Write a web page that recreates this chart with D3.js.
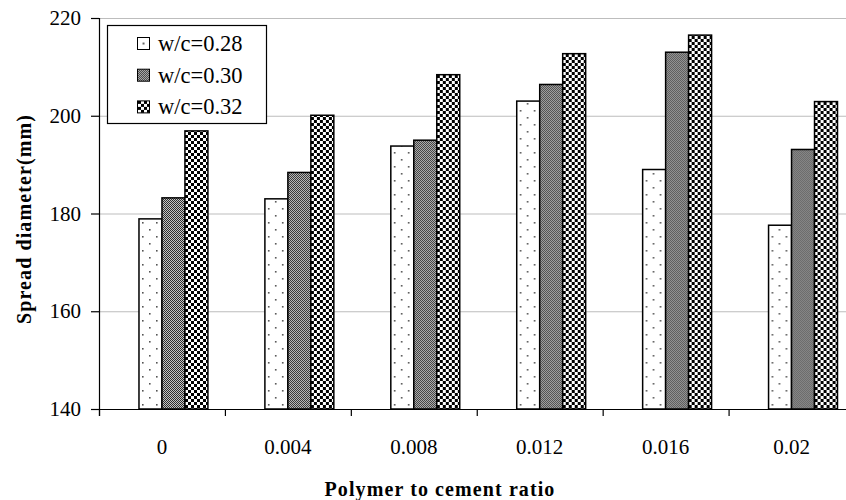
<!DOCTYPE html>
<html>
<head>
<meta charset="utf-8">
<script src="https://cdn.jsdelivr.net/npm/d3@7/dist/d3.min.js"></script>
<style>
  html, body { margin: 0; padding: 0; background: #fff; }
  svg { display: block; }
  text { font-family: "Liberation Serif", "Times New Roman", serif; fill: #000; }
</style>
</head>
<body>
<svg id="chart" width="846" height="500"></svg>
<script>
// ---- data ----
const categories = ["0", "0.004", "0.008", "0.012", "0.016", "0.02"];
const seriesNames = ["w/c=0.28", "w/c=0.30", "w/c=0.32"];
const wc028 = [178.9, 183.0, 193.8, 203.0, 189.0, 177.6];
const wc030 = [183.2, 188.4, 195.0, 206.4, 213.0, 193.1];
const wc032 = [196.9, 200.1, 208.4, 212.7, 216.5, 202.9];
const yTicks = [140, 160, 180, 200, 220];
const xTitle = "Polymer to cement ratio";
const yTitle = "Spread diameter(mm)";

const seriesValues = [wc028, wc030, wc032];
const patternIds = ["pDots", "pFine", "pCheck"];
const legendPatternIds = ["pDotLegend", "pFine", "pCheck"];

// ---- layout ----
const svg = d3.select("#chart");
const mLeft = 99, mRight = 854.5, mTop = 18, mBottom = 409;

const x0 = d3.scaleBand().domain(categories).range([mLeft, mRight])
  .paddingInner(0.27).paddingOuter(0.135);
// four slots per group (first slot empty, as in the original spreadsheet chart)
const x1 = d3.scaleBand().domain(["", ...seriesNames]).range([0, x0.bandwidth()]);
const y = d3.scaleLinear().domain([140, 220]).range([mBottom, mTop]);

// ---- patterns ----
const defs = svg.append("defs");
const pd = defs.append("pattern").attr("id", "pDots").attr("patternUnits", "userSpaceOnUse")
  .attr("width", 14).attr("height", 14).attr("x", 2).attr("y", 2);
pd.append("rect").attr("width", 14).attr("height", 14).attr("fill", "#fff");
pd.append("rect").attr("x", 3).attr("y", 3).attr("width", 1.6).attr("height", 1.6).attr("fill", "#555");
pd.append("rect").attr("x", 10).attr("y", 10).attr("width", 1.6).attr("height", 1.6).attr("fill", "#555");

const pdl = defs.append("pattern").attr("id", "pDotLegend").attr("patternUnits", "objectBoundingBox")
  .attr("patternContentUnits", "objectBoundingBox").attr("width", 1).attr("height", 1);
pdl.append("rect").attr("width", 1).attr("height", 1).attr("fill", "#fff");
pdl.append("rect").attr("x", 0.43).attr("y", 0.43).attr("width", 0.15).attr("height", 0.15).attr("fill", "#444");

const pf = defs.append("pattern").attr("id", "pFine").attr("patternUnits", "userSpaceOnUse")
  .attr("width", 2).attr("height", 2);
pf.append("rect").attr("width", 2).attr("height", 2).attr("fill", "#c4c4c4");
pf.append("rect").attr("x", 0).attr("y", 0).attr("width", 1).attr("height", 1).attr("fill", "#2e2e2e");
pf.append("rect").attr("x", 1).attr("y", 1).attr("width", 1).attr("height", 1).attr("fill", "#2e2e2e");

const pc = defs.append("pattern").attr("id", "pCheck").attr("patternUnits", "userSpaceOnUse")
  .attr("width", 6).attr("height", 6);
pc.append("rect").attr("width", 6).attr("height", 6).attr("fill", "#fff");
pc.append("rect").attr("x", 0).attr("y", 0).attr("width", 3).attr("height", 3).attr("fill", "#000");
pc.append("rect").attr("x", 3).attr("y", 3).attr("width", 3).attr("height", 3).attr("fill", "#000");

// ---- gridlines ----
svg.append("g").selectAll("line").data(yTicks.filter(t => t > 140)).join("line")
  .attr("x1", mLeft).attr("x2", 846)
  .attr("y1", d => y(d) + 0.5).attr("y2", d => y(d) + 0.5)
  .attr("stroke", "#bdbdbd").attr("stroke-width", 1.2);

// ---- bars ----
const groups = svg.append("g").selectAll("g").data(categories).join("g")
  .attr("transform", d => `translate(${x0(d)},0)`);
groups.selectAll("rect")
  .data((c, ci) => seriesNames.map((s, si) => ({ s, si, v: seriesValues[si][ci] })))
  .join("rect")
  .attr("x", d => x1(d.s))
  .attr("width", x1.bandwidth())
  .attr("y", d => y(d.v))
  .attr("height", d => mBottom - y(d.v))
  .attr("fill", d => `url(#${patternIds[d.si]})`)
  .attr("stroke", "#000").attr("stroke-width", 1.5);

// ---- axes ----
const yAxis = svg.append("g").attr("transform", `translate(${mLeft},0)`)
  .call(d3.axisLeft(y).tickValues(yTicks).tickSize(8).tickPadding(10).tickFormat(d3.format("d")));
yAxis.select(".domain").attr("stroke", "#000").attr("stroke-width", 1.2);
yAxis.selectAll(".tick line").attr("stroke", "#000").attr("stroke-width", 1.2);
yAxis.selectAll("text").style("font-family", "Liberation Serif").style("font-size", "21px");

// x axis: ticks at category boundaries
const xTickScale = d3.scaleLinear().domain([0, categories.length]).range([mLeft, mRight]);
const xAxisTicks = svg.append("g").attr("transform", `translate(0,${mBottom})`)
  .call(d3.axisBottom(xTickScale).tickValues(d3.range(0, categories.length + 1)).tickSize(7).tickFormat(""));
xAxisTicks.select(".domain").attr("stroke", "#000").attr("stroke-width", 1.2);
xAxisTicks.selectAll(".tick line").attr("stroke", "#000").attr("stroke-width", 1.2);

const xAxisLabels = svg.append("g").attr("transform", `translate(0,${mBottom})`)
  .call(d3.axisBottom(x0).tickSize(0).tickPadding(0));
xAxisLabels.select(".domain").remove();
xAxisLabels.selectAll("text").attr("y", 45).attr("dy", 0)
  .style("font-family", "Liberation Serif").style("font-size", "21px");

// ---- titles ----
svg.append("text").attr("x", 440).attr("y", 496).attr("text-anchor", "middle")
  .style("font-weight", "bold").style("font-size", "20px").style("letter-spacing", "1.1px")
  .text(xTitle);
svg.append("text").attr("transform", "translate(31,219) rotate(-90)").attr("text-anchor", "middle")
  .style("font-weight", "bold").style("font-size", "20px").style("letter-spacing", "1.1px")
  .text(yTitle);

// ---- legend ----
const lg = svg.append("g");
lg.append("rect").attr("x", 107.5).attr("y", 25.5).attr("width", 159).attr("height", 98)
  .attr("fill", "#fff").attr("stroke", "#000").attr("stroke-width", 1.2);
const rows = lg.selectAll("g").data(seriesNames).join("g")
  .attr("transform", (d, i) => `translate(0,${43.5 + i * 31.7})`);
rows.append("rect").attr("x", 137.5).attr("y", -6).attr("width", 12).attr("height", 12)
  .attr("fill", (d, i) => `url(#${legendPatternIds[i]})`).attr("stroke", "#000").attr("stroke-width", 1);
rows.append("text").attr("x", 158).attr("y", 7.5)
  .style("font-size", "22.5px").text(d => d);
</script>
</body>
</html>
